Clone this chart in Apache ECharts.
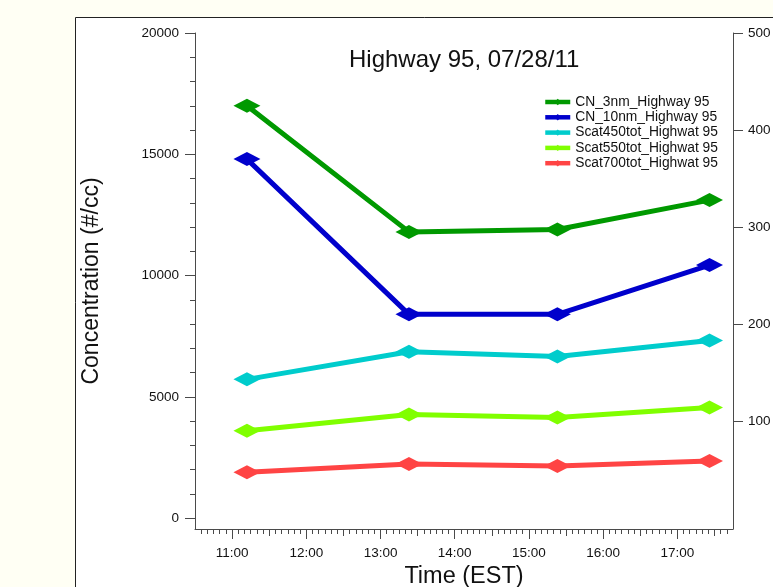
<!DOCTYPE html>
<html>
<head>
<meta charset="utf-8">
<script src="https://cdn.jsdelivr.net/npm/echarts@6/dist/echarts.min.js"></script>
<style>
  html, body { margin: 0; padding: 0; background: #fffff4; overflow: hidden; }
  #chart { width: 773px; height: 587px; }
</style>
</head>
<body>
<div id="chart"></div>
<script>
// Sample times (EST) and measured values along Highway 95
const sampleTimes = ['11:12', '13:23', '15:23', '17:26'];
const cn3nm = [17000, 11800, 11900, 13110];
const cn10nm = [14800, 8400, 8400, 10430];
const scat450 = [143, 171.5, 166.5, 183];
const scat550 = [90, 106.7, 103.6, 113.9];
const scat700 = [47.2, 55.8, 53.7, 58.9];

// Axis tick labels
const timeLabels = ['11:00', '12:00', '13:00', '14:00', '15:00', '16:00', '17:00'];
const leftLabels = [0, 5000, 10000, 15000, 20000];
const rightLabels = [100, 200, 300, 400, 500];

const FONT = '"Liberation Sans", Arial, sans-serif';
const AXIS_COLOR = '#4a4a4a';

const toMin = s => { const [h, m] = s.split(':').map(Number); return h * 60 + m; };
const fmtMin = v => { const h = Math.floor(v / 60), m = Math.round(v - h * 60); return h + ':' + String(m).padStart(2, '0'); };

const X_MIN = toMin('10:30'), X_MAX = toMin('17:45');
const hourTicks = timeLabels.map(toMin);
const halfTicks = [];
const fiveTicks = [];
for (let v = X_MIN + 5; v < X_MAX; v += 5) {
  fiveTicks.push(v);
  if (v % 30 === 0 && v % 60 !== 0) halfTicks.push(v);
}
const leftMinor = [];
for (let v = 1000; v < 20000; v += 1000) if (v % 5000 !== 0) leftMinor.push(v);

const pairs = vals => sampleTimes.map((t, i) => [toMin(t), vals[i]]);

function lineSeries(name, vals, color, yIdx) {
  return {
    name, type: 'line', xAxisIndex: 0, yAxisIndex: yIdx,
    data: pairs(vals),
    symbol: 'diamond', symbolSize: [27, 14],
    lineStyle: { width: 5, color },
    itemStyle: { color },
    emphasis: { disabled: true }
  };
}

function hiddenX(ticks, len) {
  return {
    type: 'value', min: X_MIN, max: X_MAX, position: 'bottom',
    axisLine: { show: false, onZero: false },
    axisTick: { show: true, customValues: ticks, length: len, lineStyle: { color: AXIS_COLOR } },
    axisLabel: { show: false }, splitLine: { show: false }
  };
}

const chart = echarts.init(document.getElementById('chart'), null, { renderer: 'canvas', width: 773, height: 587 });
chart.setOption({
  animation: false,
  backgroundColor: '#fffff4',
  textStyle: { fontFamily: FONT },
  graphic: [{
    type: 'rect', z: -10, silent: true,
    shape: { x: 75.5, y: 17.5, width: 800, height: 700 },
    style: { fill: '#ffffff', stroke: '#222222', lineWidth: 1 }
  }],
  title: {
    text: 'Highway 95, 07/28/11',
    left: 349, top: 48.5, padding: 0,
    textStyle: { fontFamily: FONT, fontSize: 24, fontWeight: 'normal', color: '#111' }
  },
  legend: {
    left: 543, top: 94.5, orient: 'vertical', padding: 0,
    itemWidth: 25, itemHeight: 8, itemGap: 0.3,
    lineStyle: { width: 4.5 },
    textStyle: { fontFamily: FONT, fontSize: 13.8, lineHeight: 15, color: '#111' },
    data: ['CN_3nm_Highway 95', 'CN_10nm_Highway 95', 'Scat450tot_Highwat 95', 'Scat550tot_Highwat 95', 'Scat700tot_Highwat 95']
  },
  grid: { left: 195, top: 33, width: 538, height: 496, containLabel: false, outerBoundsMode: 'none' },
  xAxis: [
    {
      type: 'value', min: X_MIN, max: X_MAX, position: 'bottom',
      name: 'Time (EST)', nameLocation: 'middle', nameGap: 35,
      nameTextStyle: { fontFamily: FONT, fontSize: 23.5, color: '#111' },
      axisLine: { show: true, onZero: false, lineStyle: { color: AXIS_COLOR, width: 1 } },
      axisTick: { show: true, customValues: hourTicks, length: 10, lineStyle: { color: AXIS_COLOR } },
      axisLabel: { customValues: hourTicks, formatter: v => fmtMin(v), margin: 17, fontFamily: FONT, fontSize: 13.5, color: '#111' },
      splitLine: { show: false }
    },
    hiddenX(halfTicks, 7),
    hiddenX(fiveTicks, 5)
  ],
  yAxis: [
    {
      type: 'value', min: -450, max: 20000, position: 'left',
      name: 'Concentration (#/cc)', nameLocation: 'middle', nameGap: 92, nameRotate: 90,
      nameTextStyle: { fontFamily: FONT, fontSize: 23, color: '#111' },
      axisLine: { show: true, onZero: false, lineStyle: { color: AXIS_COLOR, width: 1 } },
      axisTick: { show: true, customValues: leftLabels, length: 10, lineStyle: { color: AXIS_COLOR } },
      axisLabel: { customValues: leftLabels, formatter: v => String(v), margin: 16, fontFamily: FONT, fontSize: 13.5, color: '#111' },
      splitLine: { show: false }
    },
    {
      type: 'value', min: -11.25, max: 500, position: 'right',
      axisLine: { show: true, onZero: false, lineStyle: { color: AXIS_COLOR, width: 1 } },
      axisTick: { show: true, customValues: rightLabels, length: 10, lineStyle: { color: AXIS_COLOR } },
      axisLabel: { customValues: rightLabels, formatter: v => String(v), margin: 15, fontFamily: FONT, fontSize: 13.5, color: '#111' },
      splitLine: { show: false }
    },
    {
      type: 'value', min: -450, max: 20000, position: 'left',
      axisLine: { show: false, onZero: false },
      axisTick: { show: true, customValues: leftMinor, length: 5, lineStyle: { color: AXIS_COLOR } },
      axisLabel: { show: false }, splitLine: { show: false }
    }
  ],
  series: [
    lineSeries('Scat700tot_Highwat 95', scat700, '#ff4444', 1),
    lineSeries('Scat550tot_Highwat 95', scat550, '#80ff00', 1),
    lineSeries('Scat450tot_Highwat 95', scat450, '#00cccc', 1),
    lineSeries('CN_10nm_Highway 95', cn10nm, '#0000cc', 0),
    lineSeries('CN_3nm_Highway 95', cn3nm, '#009900', 0)
  ]
});
</script>
</body>
</html>
